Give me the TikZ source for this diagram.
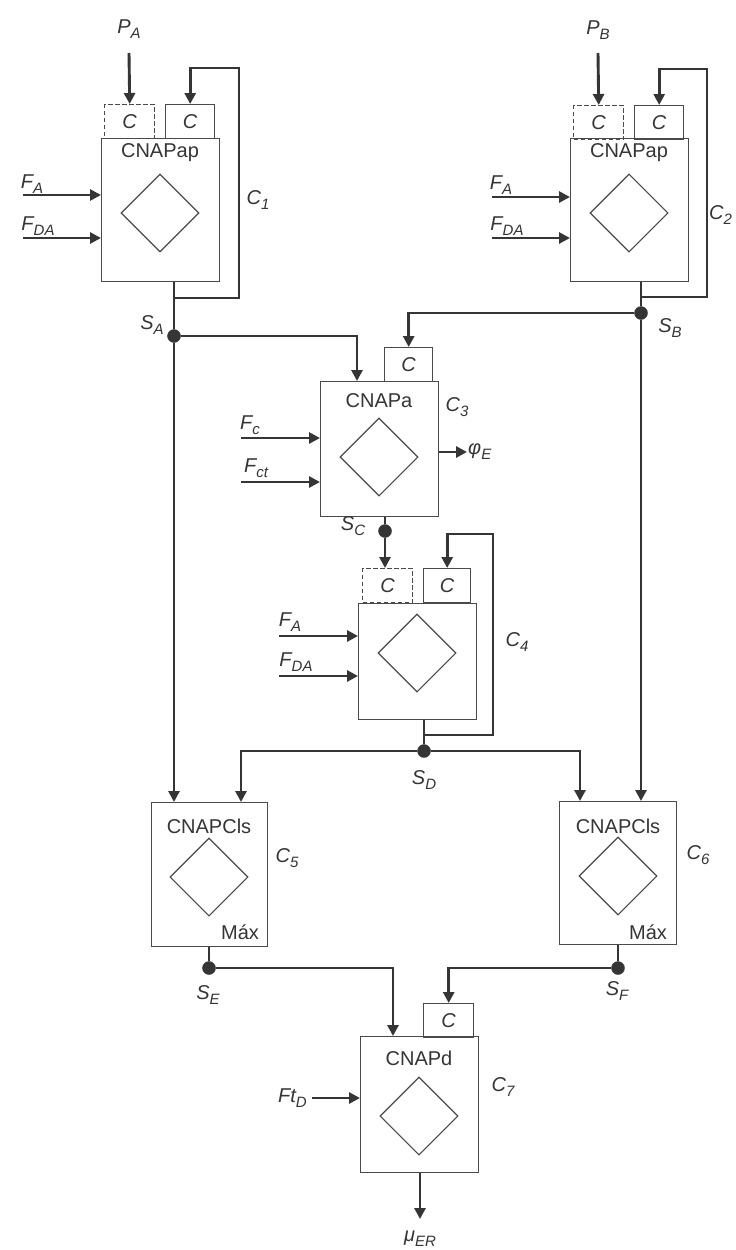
\documentclass[tikz,border=0pt]{standalone}
\usepackage{fontspec}
\setmainfont{Liberation Sans}
\usetikzlibrary{arrows.meta,shapes.geometric,calc}
\definecolor{ink}{HTML}{353535}
\definecolor{boxc}{HTML}{4A4A4A}
\newcommand{\lb}[2]{{\itshape #1\raisebox{-0.25em}{\fontsize{15}{15}\selectfont #2}}}
\begin{document}
\begin{tikzpicture}[x=1pt,y=-1pt,
  font=\fontsize{20}{23}\selectfont,
  blk/.style={draw=boxc,line width=1.4pt,fill=white,inner sep=0pt,anchor=north west},
  cbox/.style={draw=boxc,line width=1.4pt,inner sep=0pt,anchor=north west,minimum width=50pt,minimum height=34pt,font=\fontsize{20}{23}\selectfont\itshape,text=ink},
  dcbox/.style={cbox,dash pattern=on 4.5pt off 2.5pt},
  dia/.style={draw=boxc,line width=1.1pt,diamond,aspect=1,minimum width=78pt,minimum height=78pt,inner sep=0pt},
  ttl/.style={text=ink,inner sep=0pt},
  lab/.style={text=ink,inner sep=0pt},
  conn/.style={draw=ink,line width=2.9pt},
  arr/.style={conn,-{Triangle[length=11pt,width=11pt]}},
  dot/.style={circle,fill=ink,draw=ink,minimum size=13pt,inner sep=0pt},
]
\useasboundingbox (0,0) rectangle (736,1250);
\clip (0,0) rectangle (736,1250);
\fill[white] (0,0) rectangle (736,1250);

% ---------- Block C1 ----------
\node[blk,minimum width=118pt,minimum height=143pt] (A) at (101,138) {};
\node[ttl] (At) at (160,153) {CNAPap};
\node[dia] (Ad) at (160,213) {};
\node[dcbox] (AdC) at (104,104) {C};
\node[cbox,minimum width=49pt] (AsC) at (165,104) {C};
\node[lab] (PA) at (129,29) {\lb{P}{A}};
\coordinate (PAs) at (129,53);
\draw[arr] (PAs) -- (AdC.north);
\node[lab] (AFA) at (32,184) {\lb{F}{A}};
\node[lab] (AFDA) at (38,226) {\lb{F}{DA}};
\coordinate (AFAs) at (23,195);
\coordinate (AFDAs) at (23,238);
\draw[arr] (AFAs) -- (AFAs -| A.west);
\draw[arr] (AFDAs) -- (AFDAs -| A.west);
\node[lab] (C1) at (258,200) {\lb{C}{1}};
\node[dot] (SA) at (174,336) {};
\node[lab] (SAl) at (152,325) {\lb{S}{A}};
\draw[conn] (SA |- A.south) -- (SA);
\coordinate (Afb) at (174,298);
\draw[arr] (Afb) -| (239,68) -| (AsC.north);

% ---------- Block C2 ----------
\node[blk,minimum width=118pt,minimum height=143pt] (B) at (570,138) {};
\node[ttl] (Bt) at (629,153) {CNAPap};
\node[dia] (Bd) at (629,213) {};
\node[dcbox] (BdC) at (573,105) {C};
\node[cbox,minimum width=49pt] (BsC) at (634,105) {C};
\node[lab] (PB) at (598,30) {\lb{P}{B}};
\coordinate (PBs) at (598,53);
\draw[arr] (PBs) -- (BdC.north);
\node[lab] (BFA) at (501,185) {\lb{F}{A}};
\node[lab] (BFDA) at (507,226) {\lb{F}{DA}};
\coordinate (BFAs) at (492,197);
\coordinate (BFDAs) at (492,238);
\draw[arr] (BFAs) -- (BFAs -| B.west);
\draw[arr] (BFDAs) -- (BFDAs -| B.west);
\node[lab,anchor=west] (C2) at (709,215) {\lb{C}{2}};
\node[dot] (SB) at (641,313) {};
\node[lab] (SBl) at (670,328) {\lb{S}{B}};
\draw[conn] (SB |- B.south) -- (SB);
\coordinate (Bfb) at (641,297);
\draw[arr] (Bfb) -| (707,69) -| (BsC.north);

% ---------- Block C3 ----------
\node[blk,minimum width=118pt,minimum height=135pt] (C3) at (320,381) {};
\node[cbox,minimum width=48pt] (C3sC) at (384,347) {C};
\node[ttl] (C3t) at (379,401) {CNAPa};
\node[dia] (C3d) at (379,457) {};
\node[lab] (Fc) at (250,425) {\lb{F}{c}};
\node[lab] (Fct) at (256,468) {\lb{F}{ct}};
\coordinate (Fcs) at (241,438);
\coordinate (Fcts) at (241,482);
\draw[arr] (Fcs) -- (Fcs -| C3.west);
\draw[arr] (Fcts) -- (Fcts -| C3.west);
\node[lab,anchor=west,inner sep=1pt] (phi) at (467,452) {\lb{φ}{E}};
\draw[arr] (phi.west -| C3.east) -- (phi.west);
\node[lab] (C3l) at (457,407) {\lb{C}{3}};
\coordinate (C3a) at (357,381);
\draw[arr] (SA) -| (C3a);
\draw[arr] (SB) -| (C3sC.north);
\node[dot] (SC) at (385,531) {};
\node[lab] (SCl) at (353,526) {\lb{S}{C}};
\draw[conn] (SC |- C3.south) -- (SC);

% ---------- Block C4 ----------
\node[blk,minimum width=118pt,minimum height=116pt] (C4) at (358,603) {};
\node[dcbox] (C4dC) at (362,568) {C};
\node[cbox,minimum width=47pt] (C4sC) at (423,568) {C};
\node[dia] (C4d) at (417,653) {};
\draw[arr] (SC) -- (SC |- C4dC.north);
\node[lab] (DFA) at (290,622) {\lb{F}{A}};
\node[lab] (DFDA) at (296,662) {\lb{F}{DA}};
\coordinate (DFAs) at (279,636);
\coordinate (DFDAs) at (279,676);
\draw[arr] (DFAs) -- (DFAs -| C4.west);
\draw[arr] (DFDAs) -- (DFDAs -| C4.west);
\node[lab] (C4l) at (517,642) {\lb{C}{4}};
\node[dot] (SD) at (424,751) {};
\node[lab] (SDl) at (424,780) {\lb{S}{D}};
\draw[conn] (SD |- C4.south) -- (SD);
\coordinate (C4fb) at (424,735);
\draw[arr] (C4fb) -| (493,534) -| (C4sC.north);

% ---------- Block C5 ----------
\node[blk,minimum width=116pt,minimum height=144pt] (C5) at (151,802) {};
\node[ttl] (C5t) at (209,826) {CNAPCls};
\node[dia] (C5d) at (209,877) {};
\node[ttl] (C5m) at (240,932) {Máx};
\node[lab] (C5l) at (287,858) {\lb{C}{5}};
\coordinate (C5b) at (241,802);
\draw[arr] (SA) -- (SA |- C5.north);
\draw[arr] (SD) -| (C5b);
\node[dot] (SE) at (209,968) {};
\node[lab] (SEl) at (208,995) {\lb{S}{E}};
\draw[conn] (SE |- C5.south) -- (SE);

% ---------- Block C6 ----------
\node[blk,minimum width=117pt,minimum height=143pt] (C6) at (559,801) {};
\node[ttl] (C6t) at (618,826) {CNAPCls};
\node[dia] (C6d) at (618,876) {};
\node[ttl] (C6m) at (648,932) {Máx};
\node[lab] (C6l) at (698,855) {\lb{C}{6}};
\coordinate (C6a) at (580,801);
\draw[arr] (SD) -| (C6a);
\draw[arr] (SB) -- (SB |- C6.north);
\node[dot] (SF) at (618,968) {};
\node[lab] (SFl) at (617,991) {\lb{S}{F}};
\draw[conn] (SF |- C6.south) -- (SF);

% ---------- Block C7 ----------
\node[blk,minimum width=118pt,minimum height=136pt] (C7) at (360,1036) {};
\node[cbox] (C7sC) at (423,1003) {C};
\node[ttl] (C7t) at (419,1058) {CNAPd};
\node[dia] (C7d) at (419,1116) {};
\node[lab] (C7l) at (503,1087) {\lb{C}{7}};
\coordinate (C7a) at (393,1036);
\draw[arr] (SE) -| (C7a);
\draw[arr] (SF) -| (C7sC.north);
\node[lab,anchor=east] (FtD) at (307,1098) {\lb{Ft}{D}};
\coordinate (FtDs) at (312,1098);
\draw[arr] (FtDs) -- (FtDs -| C7.west);
\node[lab] (mu) at (420,1239) {\lb{μ}{ER}};
\coordinate (mut) at (420,1219);
\draw[arr] (mu |- C7.south) -- (mut);
\end{tikzpicture}
\end{document}
